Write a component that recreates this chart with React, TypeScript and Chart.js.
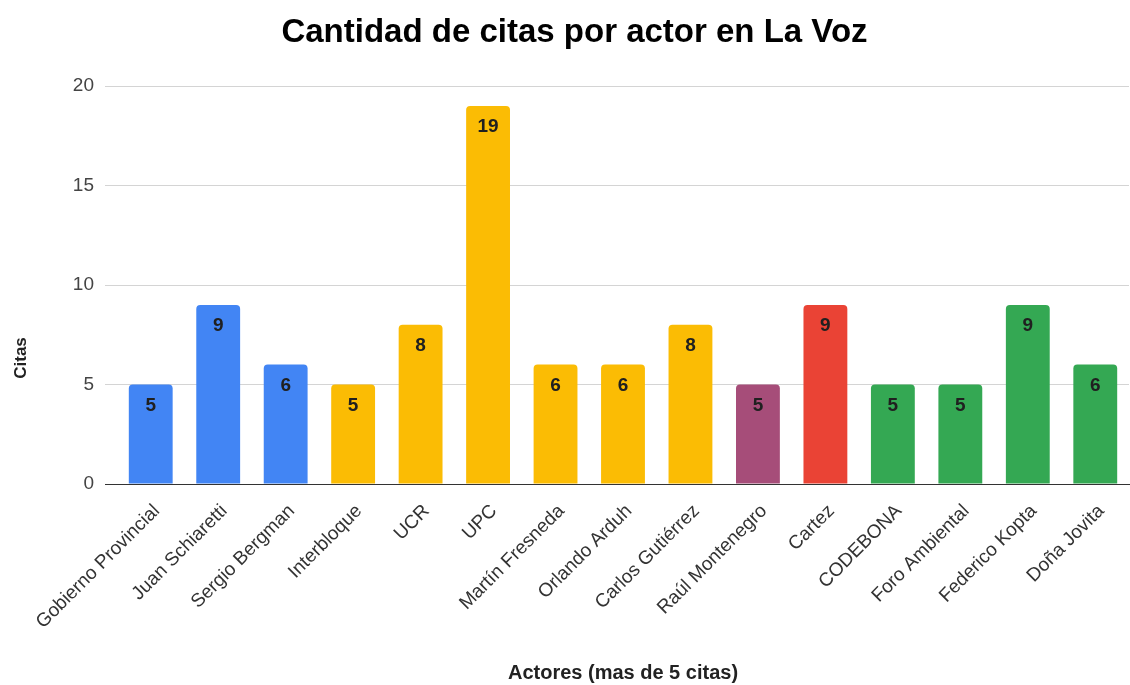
import React, { useEffect, useRef } from "react";
import { Chart, registerables } from "chart.js";

Chart.register(...registerables);

const categories = [
  "Gobierno Provincial",
  "Juan Schiaretti",
  "Sergio Bergman",
  "Interbloque",
  "UCR",
  "UPC",
  "Martín Fresneda",
  "Orlando Arduh",
  "Carlos Gutiérrez",
  "Raúl Montenegro",
  "Cartez",
  "CODEBONA",
  "Foro Ambiental",
  "Federico Kopta",
  "Doña Jovita",
];
const citas = [5, 9, 6, 5, 8, 19, 6, 6, 8, 5, 9, 5, 5, 9, 6];
const BLUE = "#4285F4";
const YELLOW = "#FBBC04";
const PURPLE = "#A64D79";
const RED = "#EA4335";
const GREEN = "#34A853";
const barColors = [
  BLUE, BLUE, BLUE,
  YELLOW, YELLOW, YELLOW, YELLOW, YELLOW, YELLOW,
  PURPLE, RED,
  GREEN, GREEN, GREEN, GREEN,
];
const yTicks = [0, 5, 10, 15, 20];
const titleText = "Cantidad de citas por actor en La Voz";
const xTitle = "Actores (mas de 5 citas)";
const yTitle = "Citas";

const FONT = "'Liberation Sans', Arial, Helvetica, sans-serif";

const valueLabels = {
  id: "valueLabels",
  afterDatasetsDraw(chart: any) {
    const ctx = chart.ctx;
    const meta = chart.getDatasetMeta(0);
    ctx.save();
    ctx.font = `bold 19px ${FONT}`;
    ctx.fillStyle = "#202020";
    ctx.textAlign = "center";
    ctx.textBaseline = "middle";
    meta.data.forEach((bar: any, i: number) => {
      ctx.fillText(String(chart.data.datasets[0].data[i]), bar.x, bar.y + 21);
    });
    ctx.restore();
  },
};

const yAxisTitle = {
  id: "yAxisTitle",
  afterDraw(chart: any) {
    const ctx = chart.ctx;
    const area = chart.chartArea;
    ctx.save();
    ctx.font = `bold 17px ${FONT}`;
    ctx.fillStyle = "#222";
    ctx.textAlign = "center";
    ctx.textBaseline = "middle";
    ctx.translate(21, area.bottom - 126);
    ctx.rotate(-Math.PI / 2);
    ctx.fillText(yTitle, 0, 0);
    ctx.restore();
  },
};

export default function App() {
  const ref = useRef<HTMLCanvasElement | null>(null);
  useEffect(() => {
    if (!ref.current) return;
    const chart = new Chart(ref.current, {
      type: "bar",
      data: {
        labels: categories,
        datasets: [
          {
            data: citas,
            backgroundColor: barColors,
            borderRadius: 4,
            borderSkipped: "start",
            barPercentage: 0.65,
            categoryPercentage: 1,
          },
        ],
      },
      options: {
        animation: false,
        responsive: false,
        maintainAspectRatio: false,
        layout: { padding: { left: 20, right: 1, top: 0, bottom: 0 } },
        plugins: {
          legend: { display: false },
          tooltip: { enabled: false },
          title: {
            display: true,
            text: titleText,
            color: "#000",
            font: { family: FONT, size: 33, weight: "bold" },
            padding: { top: 13, bottom: 33.4 },
          },
        },
        scales: {
          x: {
            grid: { display: false, drawTicks: false },
            border: { display: true, color: "#333", width: 1 },
            ticks: {
              autoSkip: false,
              minRotation: 45,
              maxRotation: 45,
              color: "#333",
              padding: 16,
              labelOffset: 6,
              font: { family: FONT, size: 19 },
            },
            title: {
              display: true,
              text: xTitle,
              color: "#222",
              font: { family: FONT, size: 20, weight: "bold" },
              padding: { top: 0, bottom: 0 },
            },
            afterFit(scale: any) {
              scale.height = 201;
            },
          },
          y: {
            min: 0,
            max: 20,
            afterBuildTicks(scale: any) {
              scale.ticks = yTicks.map((v) => ({ value: v }));
            },
            grid: {
              color: (c: any) => (c.tick && c.tick.value === 0 ? "#333" : "#d4d4d4"),
              tickLength: 12,
              drawTicks: true,
            },
            border: { display: false },
            ticks: {
              color: "#444",
              padding: 11,
              font: { family: FONT, size: 19 },
            },
            afterFit(scale: any) {
              scale.width = 97;
            },
          },
        },
      },
      plugins: [valueLabels, yAxisTitle],
    });
    return () => chart.destroy();
  }, []);
  return (
    <div style={{ position: "fixed", left: 0, top: 0, width: 1130, height: 685, background: "#fff" }}>
      <canvas ref={ref} width={1130} height={685} style={{ width: 1130, height: 685 }} />
    </div>
  );
}
